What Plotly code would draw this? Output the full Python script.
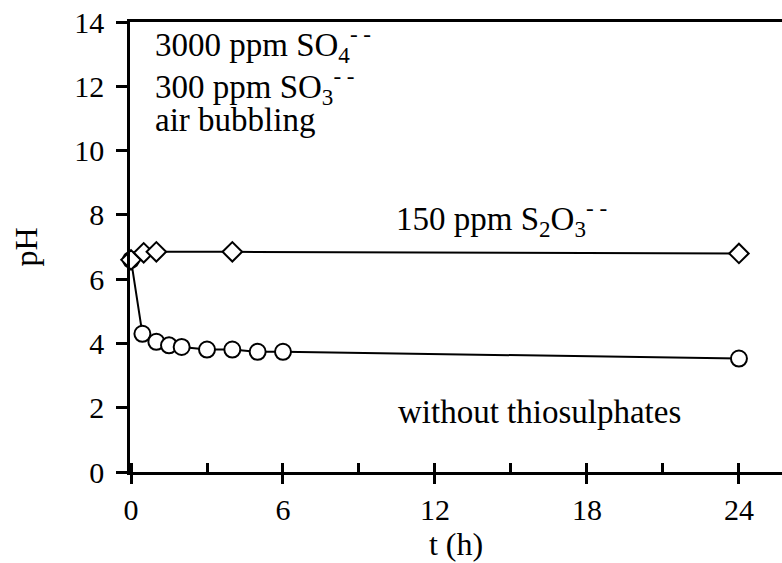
import plotly.graph_objects as go

# pH over time, with and without thiosulphate addition
t_without = [0, 0.45, 1.0, 1.5, 2.0, 3.0, 4.0, 5.0, 6.0, 24.0]
ph_without = [6.6, 4.3, 4.05, 3.94, 3.89, 3.81, 3.81, 3.74, 3.74, 3.53]

t_thio = [0, 0.5, 1.0, 4.0, 24.0]
ph_thio = [6.6, 6.82, 6.85, 6.85, 6.8]

x_ticks = [0, 6, 12, 18, 24]
x_minor = [0, 3, 6, 9, 12, 15, 18, 21, 24]
y_ticks = [0, 2, 4, 6, 8, 10, 12, 14]

FONT = "Liberation Serif"
TICK_FONT = dict(family=FONT, size=30, color="black")
TITLE_FONT = dict(family=FONT, size=32, color="black")

fig = go.Figure()

fig.add_trace(go.Scatter(
    x=t_without, y=ph_without, mode="lines+markers",
    line=dict(color="black", width=2),
    marker=dict(symbol="circle", size=16, color="white",
                line=dict(color="black", width=2)),
    cliponaxis=False, showlegend=False,
))
fig.add_trace(go.Scatter(
    x=t_thio, y=ph_thio, mode="lines+markers",
    line=dict(color="black", width=2),
    marker=dict(symbol="diamond", size=15, color="white",
                line=dict(color="black", width=2)),
    cliponaxis=False, showlegend=False,
))
# invisible trace carrying the inner half of the x ticks
fig.add_trace(go.Scatter(x=[0], y=[0], xaxis="x2", mode="markers",
                         marker=dict(opacity=0), showlegend=False,
                         hoverinfo="skip"))

fig.update_layout(
    width=782, height=563,
    margin=dict(l=130, r=0, t=22, b=91),
    paper_bgcolor="white", plot_bgcolor="white",
    font=dict(family=FONT, color="black", size=30),
    xaxis=dict(
        range=[-0.04, 25.7], tickvals=x_ticks, ticks="outside",
        ticklen=9, tickwidth=2.5, tickcolor="black",
        showline=True, linecolor="black", linewidth=2.5, mirror=True,
        showgrid=False, zeroline=False,
        tickfont=TICK_FONT,
        title=dict(text="t (h)", font=TITLE_FONT, standoff=0),
    ),
    xaxis2=dict(
        overlaying="x", matches="x", side="bottom", anchor="y",
        tickvals=x_minor, ticks="inside", ticklen=9, tickwidth=2.5,
        tickcolor="black", showticklabels=False, showgrid=False,
        zeroline=False, showline=False,
    ),
    yaxis=dict(
        range=[0, 14], tickvals=y_ticks, ticks="outside",
        ticklen=11, tickwidth=2.5, tickcolor="black",
        showline=True, linecolor="black", linewidth=2.5,
        showgrid=False, zeroline=False,
        tickfont=TICK_FONT, ticklabelstandoff=6,
        title=dict(text="pH", font=TITLE_FONT, standoff=28),
    ),
)

annos = [
    ("3000 ppm SO<sub>4</sub><sup>- -</sup>", 0.035, 0.949),
    ("300 ppm SO<sub>3</sub><sup>- -</sup>", 0.035, 0.856),
    ("air bubbling", 0.035, 0.782),
    ("150 ppm S<sub>2</sub>O<sub>3</sub><sup>- -</sup>", 0.405, 0.564),
    ("without thiosulphates", 0.408, 0.133),
]
for text, x, y in annos:
    fig.add_annotation(text=text, x=x, y=y, xref="paper", yref="paper",
                       xanchor="left", yanchor="middle", showarrow=False,
                       font=dict(family=FONT, size=33, color="black"))

fig.write_html("out.html")
